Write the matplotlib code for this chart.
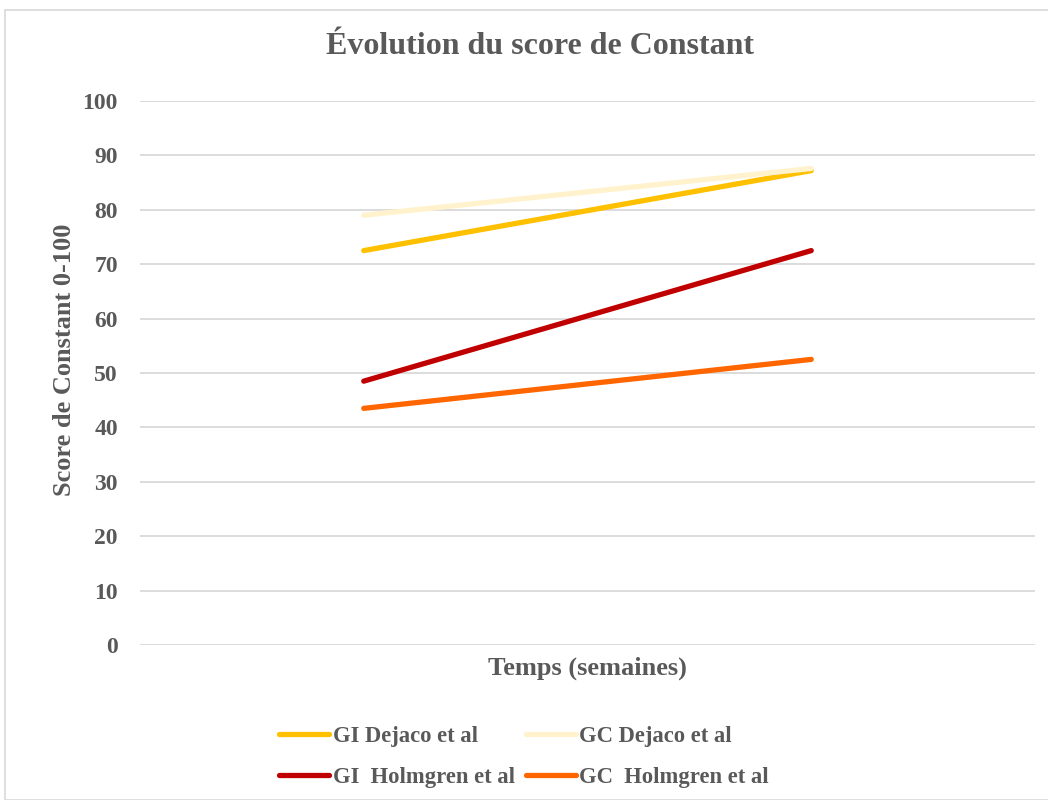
import matplotlib.pyplot as plt
from matplotlib.patches import Rectangle

# two time points, no tick labels on the x axis
points = [0, 1]
series = ["GI Dejaco et al", "GC Dejaco et al", "GI  Holmgren et al", "GC  Holmgren et al"]
gi_dejaco = [72.5, 87.2]
gc_dejaco = [79.0, 87.6]
gi_holmgren = [48.5, 72.5]
gc_holmgren = [43.5, 52.5]
colors = ["#FFC000", "#FFF2CC", "#C00000", "#FF6600"]

grey = "#595959"
plt.rcParams["font.family"] = ["Liberation Serif", "DejaVu Serif"]

fig = plt.figure(figsize=(10.48, 8), dpi=100)
ax = fig.add_axes([140 / 1048, 155 / 800, 895 / 1048, 544 / 800])

lines = []
for vals, lab, col in zip([gi_dejaco, gc_dejaco, gi_holmgren, gc_holmgren], series, colors):
    ln, = ax.plot(points, vals, color=col, lw=3.8, solid_capstyle="round", label=lab)
    lines.append(ln)

ax.set_xlim(-0.5, 1.5)
ax.set_ylim(0, 100)
ax.set_yticks(range(0, 101, 10))
ax.set_xticks([])
ax.grid(axis="y", color="#D9D9D9", lw=1.3)
ax.set_axisbelow(True)
for s in ax.spines.values():
    s.set_visible(False)
ax.tick_params(axis="y", length=0, pad=16, labelsize=17, labelcolor=grey)
for t in ax.get_yticklabels():
    t.set_fontweight("bold")

ax.set_ylabel("Score de Constant 0-100", fontsize=19, fontweight="bold", color=grey)
ax.yaxis.set_label_coords(-0.071, 0.524)
ax.set_xlabel("Temps (semaines)", fontsize=19, fontweight="bold", color=grey, labelpad=8)
fig.text(0.515, 1 - 47 / 800, "Évolution du score de Constant", ha="center", va="center",
         fontsize=23, fontweight="bold", color=grey)

# matplotlib fills legend columns first, so reorder to get the row layout
order = [0, 2, 1, 3]
leg = fig.legend([lines[i] for i in order], [series[i] for i in order],
                 loc="center", bbox_to_anchor=(0.5, 1 - 757 / 800), ncol=2, frameon=False,
                 prop={"size": 16.3, "weight": "bold"}, handlelength=2.2, handletextpad=0.15,
                 columnspacing=0.5, labelspacing=0.9)
for t in leg.get_texts():
    t.set_color(grey)

fig.patches.append(Rectangle((5 / 1048, 0), 1.1, 1 - 10 / 800, transform=fig.transFigure,
                             fill=False, ec="#D9D9D9", lw=1.2))

fig.savefig("out.png", dpi=100)
